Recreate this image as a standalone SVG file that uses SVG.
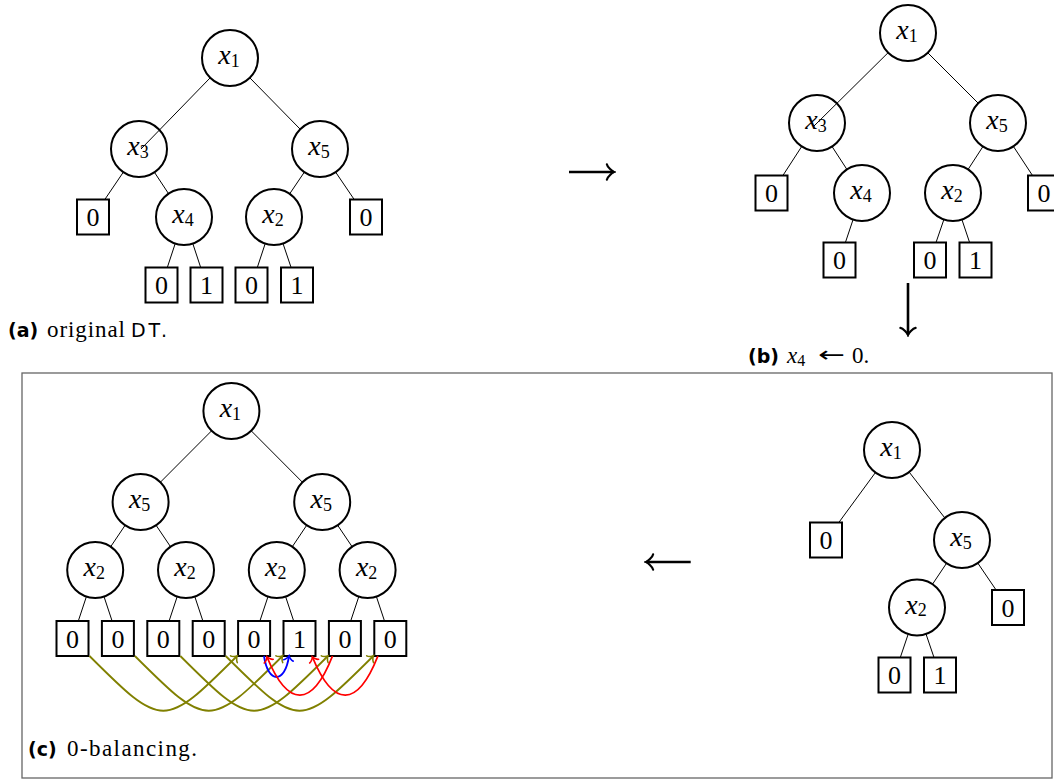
<svg xmlns="http://www.w3.org/2000/svg" width="1054" height="781" viewBox="0 0 1054 781">
<defs>
<marker id="mk" viewBox="-9 -9 11 18" refX="0" refY="0" markerWidth="11" markerHeight="18" orient="auto" markerUnits="userSpaceOnUse"><path d="M-7.1,-7.6 C-6.65,-4.75 -1.4,-0.5 0,0 C-1.4,0.5 -6.65,4.75 -7.1,7.6" fill="none" stroke="#000" stroke-width="2.2" stroke-linecap="round"/></marker>
<marker id="mo" viewBox="-7 -7 9 14" refX="0" refY="0" markerWidth="9" markerHeight="14" orient="auto" markerUnits="userSpaceOnUse"><path d="M-4.5,-4.8 C-4.2,-3 -0.9,-0.3 0,0 C-0.9,0.3 -4.2,3 -4.5,4.8" fill="none" stroke="#808000" stroke-width="1.6" stroke-linecap="round"/></marker>
<marker id="mr" viewBox="-7 -7 9 14" refX="0" refY="0" markerWidth="9" markerHeight="14" orient="auto" markerUnits="userSpaceOnUse"><path d="M-4.5,-4.8 C-4.2,-3 -0.9,-0.3 0,0 C-0.9,0.3 -4.2,3 -4.5,4.8" fill="none" stroke="#ff0000" stroke-width="1.6" stroke-linecap="round"/></marker>
<marker id="mb" viewBox="-7 -7 9 14" refX="0" refY="0" markerWidth="9" markerHeight="14" orient="auto" markerUnits="userSpaceOnUse"><path d="M-4.5,-4.8 C-4.2,-3 -0.9,-0.3 0,0 C-0.9,0.3 -4.2,3 -4.5,4.8" fill="none" stroke="#0000ff" stroke-width="1.6" stroke-linecap="round"/></marker>
<circle id="cn" r="28" fill="#fff" stroke="#000" stroke-width="2"/>
<rect id="bx" x="-16" y="-17.5" width="32" height="35" fill="#fff" stroke="#000" stroke-width="2"/>
</defs>
<rect width="1054" height="781" fill="#fff"/>
<rect id="frame-c" x="22" y="373" width="1030" height="405" fill="none" stroke="#666" stroke-width="1.3"/>

<g id="a-x1"><use href="#cn" x="230" y="58"/><text font-family="Liberation Serif" text-anchor="middle" x="229" y="64"><tspan font-family="Liberation Serif" font-style="italic" font-size="28">x</tspan><tspan font-family="Liberation Serif" font-size="18" dy="2.5">1</tspan></text></g>
<g id="a-x3"><use href="#cn" x="139" y="149"/><text font-family="Liberation Serif" text-anchor="middle" x="138" y="155"><tspan font-family="Liberation Serif" font-style="italic" font-size="28">x</tspan><tspan font-family="Liberation Serif" font-size="18" dy="2.5">3</tspan></text></g>
<g id="a-x5"><use href="#cn" x="320" y="149"/><text font-family="Liberation Serif" text-anchor="middle" x="319" y="155"><tspan font-family="Liberation Serif" font-style="italic" font-size="28">x</tspan><tspan font-family="Liberation Serif" font-size="18" dy="2.5">5</tspan></text></g>
<g id="a-l1"><use href="#bx" x="93" y="217"/><text font-family="Liberation Serif" font-size="26" text-anchor="middle" x="93" y="226">0</text></g>
<g id="a-x4"><use href="#cn" x="184" y="217"/><text font-family="Liberation Serif" text-anchor="middle" x="183" y="223"><tspan font-family="Liberation Serif" font-style="italic" font-size="28">x</tspan><tspan font-family="Liberation Serif" font-size="18" dy="2.5">4</tspan></text></g>
<g id="a-x2"><use href="#cn" x="274" y="217"/><text font-family="Liberation Serif" text-anchor="middle" x="273" y="223"><tspan font-family="Liberation Serif" font-style="italic" font-size="28">x</tspan><tspan font-family="Liberation Serif" font-size="18" dy="2.5">2</tspan></text></g>
<g id="a-l2"><use href="#bx" x="366" y="217"/><text font-family="Liberation Serif" font-size="26" text-anchor="middle" x="366" y="226">0</text></g>
<g id="a-l3"><use href="#bx" x="161.5" y="285"/><text font-family="Liberation Serif" font-size="26" text-anchor="middle" x="161.5" y="294">0</text></g>
<g id="a-l4"><use href="#bx" x="206.5" y="285"/><text font-family="Liberation Serif" font-size="26" text-anchor="middle" x="206.5" y="294">1</text></g>
<g id="a-l5"><use href="#bx" x="251.5" y="285"/><text font-family="Liberation Serif" font-size="26" text-anchor="middle" x="251.5" y="294">0</text></g>
<g id="a-l6"><use href="#bx" x="297" y="285"/><text font-family="Liberation Serif" font-size="26" text-anchor="middle" x="297" y="294">1</text></g>

<g id="b-x1"><use href="#cn" x="908" y="33"/><text font-family="Liberation Serif" text-anchor="middle" x="907" y="39"><tspan font-family="Liberation Serif" font-style="italic" font-size="28">x</tspan><tspan font-family="Liberation Serif" font-size="18" dy="2.5">1</tspan></text></g>
<g id="b-x3"><use href="#cn" x="817" y="123"/><text font-family="Liberation Serif" text-anchor="middle" x="816" y="129"><tspan font-family="Liberation Serif" font-style="italic" font-size="28">x</tspan><tspan font-family="Liberation Serif" font-size="18" dy="2.5">3</tspan></text></g>
<g id="b-x5"><use href="#cn" x="998" y="123"/><text font-family="Liberation Serif" text-anchor="middle" x="997" y="129"><tspan font-family="Liberation Serif" font-style="italic" font-size="28">x</tspan><tspan font-family="Liberation Serif" font-size="18" dy="2.5">5</tspan></text></g>
<g id="b-l1"><use href="#bx" x="771.5" y="193"/><text font-family="Liberation Serif" font-size="26" text-anchor="middle" x="771.5" y="202">0</text></g>
<g id="b-x4"><use href="#cn" x="862" y="193"/><text font-family="Liberation Serif" text-anchor="middle" x="861" y="199"><tspan font-family="Liberation Serif" font-style="italic" font-size="28">x</tspan><tspan font-family="Liberation Serif" font-size="18" dy="2.5">4</tspan></text></g>
<g id="b-x2"><use href="#cn" x="953" y="193"/><text font-family="Liberation Serif" text-anchor="middle" x="952" y="199"><tspan font-family="Liberation Serif" font-style="italic" font-size="28">x</tspan><tspan font-family="Liberation Serif" font-size="18" dy="2.5">2</tspan></text></g>
<g id="b-l2"><use href="#bx" x="1044" y="193"/><text font-family="Liberation Serif" font-size="26" text-anchor="middle" x="1044" y="202">0</text></g>
<g id="b-l3"><use href="#bx" x="839.5" y="260"/><text font-family="Liberation Serif" font-size="26" text-anchor="middle" x="839.5" y="269">0</text></g>
<g id="b-l4"><use href="#bx" x="930" y="260"/><text font-family="Liberation Serif" font-size="26" text-anchor="middle" x="930" y="269">0</text></g>
<g id="b-l5"><use href="#bx" x="975.5" y="260"/><text font-family="Liberation Serif" font-size="26" text-anchor="middle" x="975.5" y="269">1</text></g>

<g id="c-x1"><use href="#cn" x="231.4" y="411"/><text font-family="Liberation Serif" text-anchor="middle" x="230.4" y="417"><tspan font-family="Liberation Serif" font-style="italic" font-size="28">x</tspan><tspan font-family="Liberation Serif" font-size="18" dy="2.5">1</tspan></text></g>
<g id="c-x5a"><use href="#cn" x="140.6" y="502"/><text font-family="Liberation Serif" text-anchor="middle" x="139.6" y="508"><tspan font-family="Liberation Serif" font-style="italic" font-size="28">x</tspan><tspan font-family="Liberation Serif" font-size="18" dy="2.5">5</tspan></text></g>
<g id="c-x5b"><use href="#cn" x="322.2" y="502"/><text font-family="Liberation Serif" text-anchor="middle" x="321.2" y="508"><tspan font-family="Liberation Serif" font-style="italic" font-size="28">x</tspan><tspan font-family="Liberation Serif" font-size="18" dy="2.5">5</tspan></text></g>
<g id="c-x2a"><use href="#cn" x="95.2" y="570"/><text font-family="Liberation Serif" text-anchor="middle" x="94.2" y="576"><tspan font-family="Liberation Serif" font-style="italic" font-size="28">x</tspan><tspan font-family="Liberation Serif" font-size="18" dy="2.5">2</tspan></text></g>
<g id="c-x2b"><use href="#cn" x="186" y="570"/><text font-family="Liberation Serif" text-anchor="middle" x="185" y="576"><tspan font-family="Liberation Serif" font-style="italic" font-size="28">x</tspan><tspan font-family="Liberation Serif" font-size="18" dy="2.5">2</tspan></text></g>
<g id="c-x2c"><use href="#cn" x="276.8" y="570"/><text font-family="Liberation Serif" text-anchor="middle" x="275.8" y="576"><tspan font-family="Liberation Serif" font-style="italic" font-size="28">x</tspan><tspan font-family="Liberation Serif" font-size="18" dy="2.5">2</tspan></text></g>
<g id="c-x2d"><use href="#cn" x="367.6" y="570"/><text font-family="Liberation Serif" text-anchor="middle" x="366.6" y="576"><tspan font-family="Liberation Serif" font-style="italic" font-size="28">x</tspan><tspan font-family="Liberation Serif" font-size="18" dy="2.5">2</tspan></text></g>
<g id="c-l1"><use href="#bx" x="72.5" y="638.5"/><text font-family="Liberation Serif" font-size="26" text-anchor="middle" x="72.5" y="647.5">0</text></g>
<g id="c-l2"><use href="#bx" x="117.9" y="638.5"/><text font-family="Liberation Serif" font-size="26" text-anchor="middle" x="117.9" y="647.5">0</text></g>
<g id="c-l3"><use href="#bx" x="163.3" y="638.5"/><text font-family="Liberation Serif" font-size="26" text-anchor="middle" x="163.3" y="647.5">0</text></g>
<g id="c-l4"><use href="#bx" x="208.7" y="638.5"/><text font-family="Liberation Serif" font-size="26" text-anchor="middle" x="208.7" y="647.5">0</text></g>
<g id="c-l5"><use href="#bx" x="254.1" y="638.5"/><text font-family="Liberation Serif" font-size="26" text-anchor="middle" x="254.1" y="647.5">0</text></g>
<g id="c-l6"><use href="#bx" x="299.5" y="638.5"/><text font-family="Liberation Serif" font-size="26" text-anchor="middle" x="299.5" y="647.5">1</text></g>
<g id="c-l7"><use href="#bx" x="344.9" y="638.5"/><text font-family="Liberation Serif" font-size="26" text-anchor="middle" x="344.9" y="647.5">0</text></g>
<g id="c-l8"><use href="#bx" x="390.3" y="638.5"/><text font-family="Liberation Serif" font-size="26" text-anchor="middle" x="390.3" y="647.5">0</text></g>

<g id="d-x1"><use href="#cn" x="892" y="450"/><text font-family="Liberation Serif" text-anchor="middle" x="891" y="456"><tspan font-family="Liberation Serif" font-style="italic" font-size="28">x</tspan><tspan font-family="Liberation Serif" font-size="18" dy="2.5">1</tspan></text></g>
<g id="d-l1"><use href="#bx" x="826" y="540"/><text font-family="Liberation Serif" font-size="26" text-anchor="middle" x="826" y="549">0</text></g>
<g id="d-x5"><use href="#cn" x="962" y="540"/><text font-family="Liberation Serif" text-anchor="middle" x="961" y="546"><tspan font-family="Liberation Serif" font-style="italic" font-size="28">x</tspan><tspan font-family="Liberation Serif" font-size="18" dy="2.5">5</tspan></text></g>
<g id="d-x2"><use href="#cn" x="917" y="607.5"/><text font-family="Liberation Serif" text-anchor="middle" x="916" y="613.5"><tspan font-family="Liberation Serif" font-style="italic" font-size="28">x</tspan><tspan font-family="Liberation Serif" font-size="18" dy="2.5">2</tspan></text></g>
<g id="d-l2"><use href="#bx" x="1008" y="607.5"/><text font-family="Liberation Serif" font-size="26" text-anchor="middle" x="1008" y="616.5">0</text></g>
<g id="d-l3"><use href="#bx" x="894.5" y="675"/><text font-family="Liberation Serif" font-size="26" text-anchor="middle" x="894.5" y="684">0</text></g>
<g id="d-l4"><use href="#bx" x="940" y="675"/><text font-family="Liberation Serif" font-size="26" text-anchor="middle" x="940" y="684">1</text></g>

<g id="connectors">
<g stroke="#000" stroke-width="1">
<line x1="210.2" y1="77.8" x2="141" y2="149"/>
<line x1="249.8" y1="77.8" x2="300.2" y2="129.2"/>
<line x1="123.3" y1="172.2" x2="104.8" y2="199.5"/>
<line x1="154.5" y1="172.4" x2="168.5" y2="193.6"/>
<line x1="304.3" y1="172.2" x2="289.7" y2="193.8"/>
<line x1="335.7" y1="172.2" x2="354.2" y2="199.5"/>
<line x1="175.2" y1="243.6" x2="167.3" y2="267.5"/>
<line x1="192.8" y1="243.6" x2="200.7" y2="267.5"/>
<line x1="265.2" y1="243.6" x2="257.3" y2="267.5"/>
<line x1="283" y1="243.5" x2="291.1" y2="267.5"/>
<line x1="888.1" y1="52.7" x2="814" y2="126"/>
<line x1="927.8" y1="52.8" x2="978.2" y2="103.2"/>
<line x1="801.7" y1="146.5" x2="782.9" y2="175.5"/>
<line x1="832.1" y1="146.6" x2="846.9" y2="169.4"/>
<line x1="982.9" y1="146.6" x2="968.1" y2="169.4"/>
<line x1="1013.4" y1="146.4" x2="1032.5" y2="175.5"/>
<line x1="853.1" y1="219.5" x2="845.4" y2="242.5"/>
<line x1="943.9" y1="219.5" x2="936" y2="242.5"/>
<line x1="961.9" y1="219.5" x2="969.6" y2="242.5"/>
<line x1="211.6" y1="430.8" x2="160.4" y2="482.2"/>
<line x1="251.2" y1="430.8" x2="302.4" y2="482.2"/>
<line x1="125.1" y1="525.3" x2="110.7" y2="546.7"/>
<line x1="156.1" y1="525.3" x2="170.5" y2="546.7"/>
<line x1="306.7" y1="525.3" x2="292.3" y2="546.7"/>
<line x1="337.7" y1="525.3" x2="352.1" y2="546.7"/>
<line x1="86.4" y1="596.6" x2="78.3" y2="621"/>
<line x1="104" y1="596.6" x2="112.1" y2="621"/>
<line x1="177.2" y1="596.6" x2="169.1" y2="621"/>
<line x1="194.8" y1="596.6" x2="202.9" y2="621"/>
<line x1="268" y1="596.6" x2="259.9" y2="621"/>
<line x1="285.6" y1="596.6" x2="293.7" y2="621"/>
<line x1="358.8" y1="596.6" x2="350.7" y2="621"/>
<line x1="376.4" y1="596.6" x2="384.5" y2="621"/>
<line x1="875.4" y1="472.6" x2="838.8" y2="522.5"/>
<line x1="909.2" y1="472.1" x2="944.8" y2="517.9"/>
<line x1="946.5" y1="563.3" x2="932.5" y2="584.2"/>
<line x1="977.8" y1="563.1" x2="996.1" y2="590"/>
<line x1="908.2" y1="634.1" x2="900.3" y2="657.5"/>
<line x1="926" y1="634" x2="934" y2="657.5"/>
</g>
<g fill="none" stroke="#808000" stroke-width="1.8" marker-end="url(#mo)">
<path d="M89.5,656 C162.5,729 164.1,729 237.1,656"/>
<path d="M134.9,656 C207.9,729 209.5,729 282.5,656"/>
<path d="M180.3,656 C253.3,729 254.9,729 327.9,656"/>
<path d="M225.7,656 C298.7,729 300.3,729 373.3,656"/>
</g>
<path d="M264,656 C268,684 285,684 289,656" fill="none" stroke="#0000ff" stroke-width="1.8" marker-end="url(#mb)"/>
<g fill="none" stroke="#ff0000" stroke-width="1.8" marker-end="url(#mr)">
<path d="M332.5,656 C312,708 288,708 267,657"/>
<path d="M377.9,656 C357.4,708 333.4,708 312.4,657"/>
</g>
<g fill="none" stroke="#000" stroke-width="2.6" marker-end="url(#mk)">
<path d="M569,172 L614,172"/>
<path d="M908,283 L908,335"/>
<path d="M690.7,562 L646,562"/>
</g>
</g>

<g id="caption-a">
<text x="8" y="336.5" font-family="DejaVu Sans" font-weight="bold" font-size="19">(a)</text>
<text x="47" y="336.5" font-family="Liberation Serif" font-size="23" textLength="78">original</text>
<text x="131" y="336.5" font-family="DejaVu Sans" font-size="19" textLength="36">DT.</text>
</g>
<g id="caption-b">
<text x="748" y="363" font-family="DejaVu Sans" font-weight="bold" font-size="19">(b)</text>
<text x="787" y="363" font-family="Liberation Serif"><tspan font-family="Liberation Serif" font-style="italic" font-size="23">x</tspan><tspan font-family="Liberation Serif" font-size="16" dy="3">4</tspan></text>
<text x="818" y="362" font-family="DejaVu Sans" font-size="22" textLength="27" lengthAdjust="spacingAndGlyphs">←</text>
<text x="852" y="363" font-family="Liberation Serif" font-size="23">0.</text>
</g>
<g id="caption-c">
<text x="28" y="756" font-family="DejaVu Sans" font-weight="bold" font-size="19">(c)</text>
<text x="67" y="756" font-family="Liberation Serif" font-size="23" textLength="130">0-balancing.</text>
</g>
</svg>
